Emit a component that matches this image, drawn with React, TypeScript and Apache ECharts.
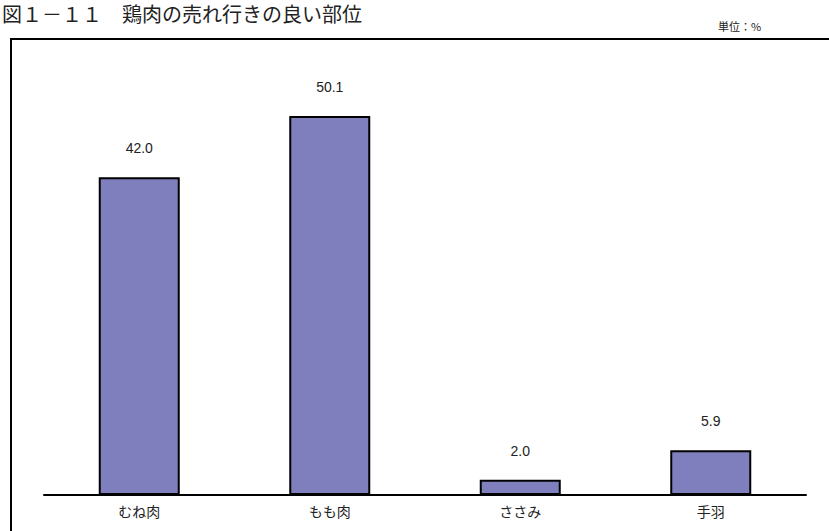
import React, { useEffect, useRef } from "react";
import * as echarts from "echarts";

const categories = ["むね肉", "もも肉", "ささみ", "手羽"];
const shares = [42.0, 50.1, 2.0, 5.9];
const titleText = "図１－１１　鶏肉の売れ行きの良い部位";
const unitText = "単位：%";

const CJK = '"Noto Sans CJK JP", "Noto Sans", sans-serif';
const LATIN = '"Liberation Sans", Arial, sans-serif';

export default function App() {
  const ref = useRef<HTMLDivElement>(null);

  useEffect(() => {
    if (!ref.current) return;
    const chart = echarts.init(ref.current, null, { renderer: "svg" });
    chart.setOption({
      animation: false,
      backgroundColor: "#ffffff",
      grid: { left: 44, right: 23, top: 41, bottom: 36, containLabel: false },
      xAxis: {
        type: "category",
        data: categories,
        axisLine: { show: true, lineStyle: { color: "#000", width: 2 } },
        axisTick: { show: false },
        axisLabel: {
          color: "#222",
          fontSize: 14,
          fontFamily: CJK,
          margin: 9,
        },
        splitLine: { show: false },
      },
      yAxis: {
        type: "value",
        min: 0,
        max: 60,
        show: false,
        splitLine: { show: false },
      },
      series: [
        {
          type: "bar",
          data: shares,
          barWidth: 81,
          itemStyle: {
            color: "#7F7FBE",
            borderColor: "#000",
            borderWidth: 2,
          },
          label: {
            show: true,
            position: "top",
            distance: 22,
            color: "#222",
            fontSize: 14,
            fontFamily: LATIN,
            formatter: (p: any) => Number(p.value).toFixed(1),
          },
        },
      ],
      graphic: [
        {
          // open frame: left and top edges only, running off the page
          type: "polyline",
          shape: { points: [[11, 600], [11, 39], [900, 39]] },
          style: { fill: "none", stroke: "#000", lineWidth: 2 },
          silent: true,
        },
        {
          type: "text",
          x: 2,
          y: 13,
          style: {
            text: titleText,
            fill: "#222",
            fontSize: 20,
            fontFamily: CJK,
            verticalAlign: "middle",
          },
        },
        {
          type: "text",
          x: 718,
          y: 20,
          style: {
            text: unitText,
            fill: "#222",
            fontSize: 11,
            fontFamily: CJK,
          },
        },
      ],
    });
    return () => chart.dispose();
  }, []);

  return (
    <div
      ref={ref}
      style={{ position: "fixed", left: 0, top: 0, width: 829, height: 531 }}
    />
  );
}
